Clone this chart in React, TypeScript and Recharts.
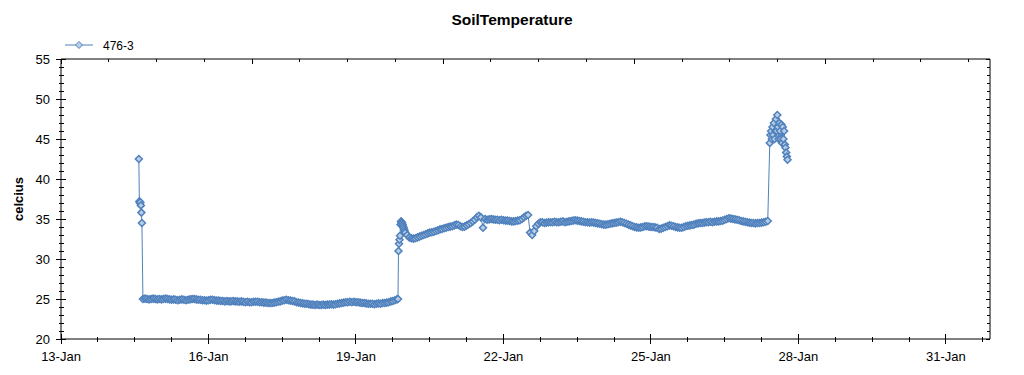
import React from 'react';
import { LineChart, Line, XAxis, YAxis } from 'recharts';

// time is in hours after 13-Jan 00:00, one reading per step
const spike14 = [42.5, 37.2, 37.0, 37.1, 36.7, 35.8, 34.5];
const jan14 = [25.0, 25.05, 25.0, 24.95, 25.0, 25.05, 25.0, 24.95];
const jan15 = [25.0, 24.95, 25.0, 25.05, 25.0, 24.95, 24.9, 24.95, 24.9, 24.85, 24.9, 24.95, 24.9, 24.85, 24.9, 24.95, 25.0, 25.0, 24.95, 24.9, 24.9, 24.85, 24.85, 24.8];
const jan16 = [24.85, 24.9, 24.9, 24.85, 24.8, 24.8, 24.75, 24.75, 24.7, 24.75, 24.7, 24.7, 24.75, 24.7, 24.7, 24.65, 24.7, 24.65, 24.6, 24.65, 24.6, 24.6, 24.65, 24.65];
const jan17 = [24.65, 24.6, 24.6, 24.55, 24.55, 24.5, 24.5, 24.5, 24.55, 24.6, 24.65, 24.7, 24.8, 24.85, 24.9, 24.85, 24.8, 24.75, 24.7, 24.6, 24.55, 24.5, 24.45, 24.4];
const jan18 = [24.4, 24.35, 24.3, 24.3, 24.25, 24.3, 24.25, 24.25, 24.3, 24.25, 24.3, 24.3, 24.35, 24.3, 24.35, 24.4, 24.45, 24.5, 24.55, 24.6, 24.6, 24.65, 24.6, 24.65];
const jan19 = [24.6, 24.6, 24.55, 24.5, 24.5, 24.45, 24.4, 24.4, 24.4, 24.35, 24.4, 24.45, 24.4, 24.5, 24.5, 24.55, 24.6, 24.7, 24.75, 24.85, 24.95];
const jump19 = [25.0, 31.0, 31.9, 32.4, 32.9, 34.3, 34.7, 34.6, 34.5, 34.3, 34.1, 33.9, 33.7, 33.5];
const jan20 = [33.3, 33.0, 32.7, 32.6, 32.55, 32.6, 32.7, 32.8, 32.9, 33.0, 33.1, 33.2, 33.3, 33.35, 33.4, 33.5, 33.6, 33.7, 33.75, 33.85, 33.9, 34.0, 34.05, 34.1];
const jan21 = [34.2, 34.3, 34.25, 34.1, 34.0, 34.05, 34.2, 34.35, 34.5, 34.7, 34.9, 35.2, 35.4, 35.2, 33.9, 35.0, 34.9, 34.95, 35.0, 34.95, 34.9, 34.9, 34.85, 34.9];
const jan22 = [34.85, 34.8, 34.8, 34.75, 34.7, 34.7, 34.75, 34.8, 34.85, 35.0, 35.2, 35.4, 35.5, 33.3, 33.0, 33.5, 34.1, 34.4, 34.6, 34.6, 34.5, 34.55, 34.6, 34.6];
const jan23 = [34.6, 34.65, 34.6, 34.6, 34.65, 34.7, 34.6, 34.65, 34.7, 34.75, 34.8, 34.85, 34.8, 34.75, 34.7, 34.65, 34.6, 34.6, 34.55, 34.6, 34.55, 34.5, 34.45, 34.4];
const jan24 = [34.35, 34.3, 34.3, 34.35, 34.4, 34.45, 34.5, 34.55, 34.6, 34.65, 34.6, 34.5, 34.4, 34.3, 34.2, 34.1, 34.0, 33.95, 33.9, 33.95, 34.0, 34.1, 34.1, 34.05];
const jan25 = [34.0, 34.0, 33.95, 33.9, 33.75, 33.8, 33.9, 34.0, 34.1, 34.2, 34.15, 34.1, 34.0, 33.95, 33.9, 33.9, 34.0, 34.1, 34.15, 34.2, 34.25, 34.3, 34.4, 34.45];
const jan26 = [34.5, 34.5, 34.55, 34.6, 34.6, 34.65, 34.6, 34.65, 34.7, 34.7, 34.75, 34.8, 34.9, 35.0, 35.1, 35.05, 35.0, 34.95, 34.9, 34.85, 34.75, 34.7, 34.65, 34.6];
const jan27 = [34.55, 34.5, 34.5, 34.45, 34.5, 34.5, 34.55, 34.6, 34.65, 34.75];
const spike27 = [44.5, 45.5, 46.0, 45.0, 46.5, 45.5, 47.0, 45.0, 46.0, 47.5, 46.0, 48.0, 46.5, 45.0, 47.0, 46.0, 45.0, 46.8, 44.5, 46.5, 45.0, 46.0, 44.3, 43.9, 43.3, 42.8, 42.4];

const xTicks = [0, 18, 36, 54, 72, 90, 108, 126, 144, 162, 180, 198, 216, 234, 252, 270, 288, 306, 324, 342, 360, 378, 396, 414, 432, 450];
const xLabels = ['13-Jan', '16-Jan', '19-Jan', '22-Jan', '25-Jan', '28-Jan', '31-Jan'];
const yLabels = [20, 25, 30, 35, 40, 45, 50, 55];
const yTicks = Array.from({ length: 36 }, (_, i) => 20 + i);

const seg = (start: number, step: number, vals: number[]) =>
  vals.map((v, i) => ({ t: start + i * step, v }));

const data = [
  ...seg(38, 0.25, spike14),
  ...seg(40, 1, jan14),
  ...seg(48, 1, jan15),
  ...seg(72, 1, jan16),
  ...seg(96, 1, jan17),
  ...seg(120, 1, jan18),
  ...seg(144, 1, jan19),
  ...seg(164.5, 0.25, jump19),
  ...seg(168, 1, jan20),
  ...seg(192, 1, jan21),
  ...seg(216, 1, jan22),
  ...seg(240, 1, jan23),
  ...seg(264, 1, jan24),
  ...seg(288, 1, jan25),
  ...seg(312, 1, jan26),
  ...seg(336, 1, jan27),
  ...seg(346, 1 / 3, spike27),
];

const FONT = '"Liberation Sans", Arial, sans-serif';
const BLUE = '#4f81bd';
const FILL = '#b9cde5';
const X_DOMAIN = [0, 453.5];
const Y_DOMAIN = [20, 55];

const renderDot = (p: any) => {
  const { cx, cy, index } = p;
  if (cx == null || cy == null) return <g key={`d${index}`} />;
  const r = 3.5;
  return (
    <path key={`d${index}`} d={`M${cx},${cy - r}L${cx + r},${cy}L${cx},${cy + r}L${cx - r},${cy}Z`}
      fill={FILL} stroke={BLUE} strokeWidth={1.5} />
  );
};

const BottomTick = ({ x, y, payload }: any) => {
  const major = payload.value % 72 === 0;
  const h = major ? 5 : 2.5;
  return (
    <g>
      <line x1={x} x2={x} y1={y - h} y2={y + h} stroke="#000" shapeRendering="crispEdges" />
      {major && (
        <text x={x} y={y + 22} textAnchor="middle" fontSize={13} fontFamily={FONT} fill="#000">
          {xLabels[payload.value / 72]}
        </text>
      )}
    </g>
  );
};

const TopTick = ({ x, y, payload }: any) => {
  const h = payload.value % 72 === 0 ? 5 : 3;
  return <line x1={x} x2={x} y1={y} y2={y + h} stroke="#000" shapeRendering="crispEdges" />;
};

const LeftTick = ({ x, y, payload }: any) => {
  const major = yLabels.includes(payload.value);
  const h = major ? 5 : 2.5;
  return (
    <g>
      <line x1={x - h} x2={x + h} y1={y} y2={y} stroke="#000" shapeRendering="crispEdges" />
      {major && (
        <text x={x - 11} y={y + 4.5} textAnchor="end" fontSize={13} fontFamily={FONT} fill="#000">
          {payload.value}
        </text>
      )}
    </g>
  );
};

const RightTick = ({ x, y, payload }: any) => {
  const h = yLabels.includes(payload.value) ? 4 : 3;
  return <line x1={x - h} x2={x} y1={y} y2={y} stroke="#000" shapeRendering="crispEdges" />;
};

export default function App() {
  return (
    <div style={{ position: 'relative', width: 1008, height: 359 }}>
      <LineChart width={1008} height={359} data={data}
        margin={{ top: 50, right: 25, bottom: 27, left: 52 }}>
        <XAxis xAxisId="b" dataKey="t" type="number" domain={X_DOMAIN} allowDataOverflow
          ticks={xTicks} interval={0} height={1} tickSize={0} tickMargin={0} tickLine={false}
          axisLine={{ stroke: '#000' }} tick={<BottomTick />} />
        <XAxis xAxisId="t" orientation="top" type="number" domain={X_DOMAIN} allowDataOverflow
          ticks={xTicks} interval={0} height={1} tickSize={0} tickMargin={0} tickLine={false}
          axisLine={{ stroke: '#000' }} tick={<TopTick />} />
        <YAxis yAxisId="l" type="number" domain={Y_DOMAIN} allowDataOverflow
          ticks={yTicks} interval={0} width={1} tickSize={0} tickMargin={0} tickLine={false}
          axisLine={{ stroke: '#000' }} tick={<LeftTick />} />
        <YAxis yAxisId="r" orientation="right" type="number" domain={Y_DOMAIN} allowDataOverflow
          ticks={yTicks} interval={0} width={1} tickSize={0} tickMargin={0} tickLine={false}
          axisLine={{ stroke: '#000' }} tick={<RightTick />} />
        <Line xAxisId="b" yAxisId="l" type="linear" dataKey="v" name="476-3" stroke={BLUE}
          strokeWidth={1} dot={renderDot} activeDot={false} isAnimationActive={false} />
      </LineChart>
      <svg width={1008} height={359} style={{ position: 'absolute', left: 0, top: 0, pointerEvents: 'none' }}>
        <text x={504} y={17} textAnchor="middle" fontSize={15.5} fontWeight="bold" fontFamily={FONT} fill="#000">
          SoilTemperature
        </text>
        <line x1={57} x2={85} y1={37} y2={37} stroke={BLUE} strokeWidth={1} />
        <path d="M71,33.5L74.5,37L71,40.5L67.5,37Z" fill={FILL} stroke={BLUE} strokeWidth={1} />
        <text x={95} y={41.5} fontSize={12} fontFamily={FONT} fill="#000">476-3</text>
        <text x={10} y={191} transform="rotate(-90 10 191)" textAnchor="middle" dominantBaseline="central"
          fontSize={13} fontWeight="bold" fontFamily={FONT} fill="#000">
          celcius
        </text>
      </svg>
    </div>
  );
}
